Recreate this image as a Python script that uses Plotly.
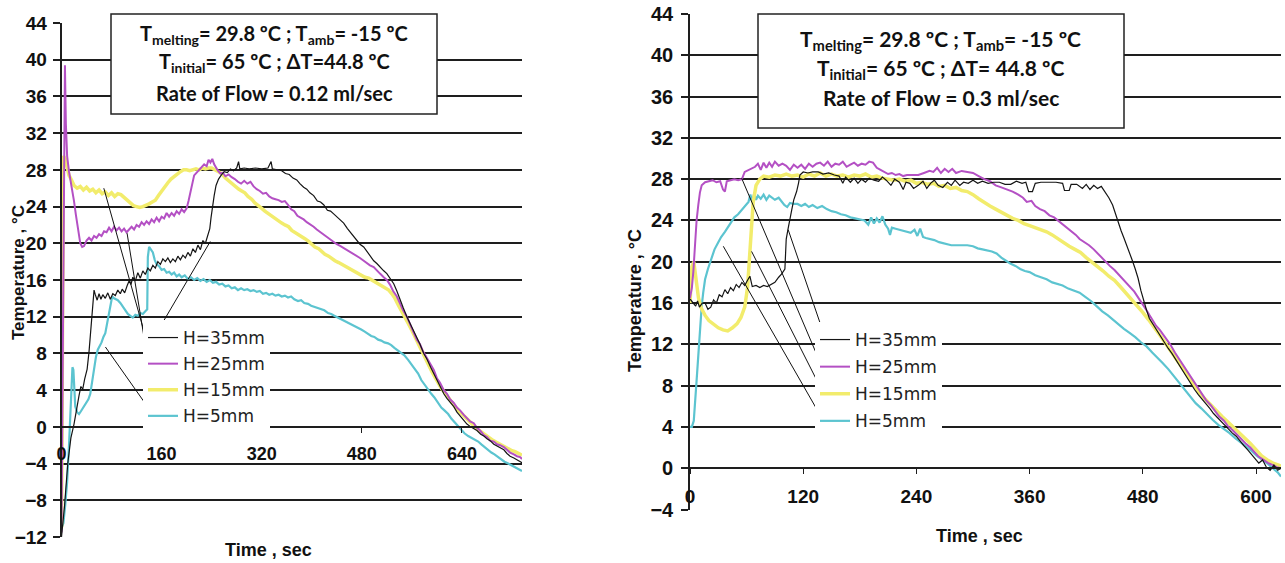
import plotly.graph_objects as go

# ---------------- data: flow rate 0.12 ml/sec ----------------
t_a_35 = [0, 5, 10, 15, 20, 24, 28, 31, 34, 37, 41, 44, 47, 50, 52, 54, 57, 60, 63, 66, 70, 74, 78, 82, 86, 90, 94, 97, 101, 105, 108, 111, 114, 118, 122, 126, 130, 134, 138, 142, 146, 150, 154, 158, 162, 166, 170, 174, 178, 182, 186, 190, 194, 198, 202, 206, 210, 214, 218, 222, 226, 230, 234, 237, 239, 241, 244, 247, 251, 255, 260, 265, 270, 275, 280, 283, 285, 292, 300, 310, 320, 330, 335, 337, 345, 352, 358, 364, 370, 376, 381, 387, 392, 397, 403, 409, 414, 419, 425, 430, 435, 441, 446, 451, 457, 462, 467, 472, 477, 483, 489, 494, 499, 504, 510, 515, 520, 525, 531, 536, 541, 546, 552, 557, 562, 568, 573, 579, 584, 590, 595, 600, 606, 611, 616, 622, 627, 632, 637, 643, 648, 654, 659, 664, 670, 675, 680, 685, 691, 696, 701, 707, 712, 717, 723, 728, 733, 736]
T_a_35 = [-12, -8.5, -4, -1.2, 0.3, 2, 3.4, 4.4, 4.1, 5.2, 6.3, 8.2, 10.5, 13, 14.9, 14.4, 13.8, 14.5, 13.9, 14.4, 14.0, 14.6, 13.9, 14.5, 14.3, 14.9, 14.5, 15.0, 14.6, 15.4, 15.9, 15.5, 16.3, 15.9, 16.8, 16.2, 17.0, 16.6, 17.3, 17.0, 17.6, 17.3, 18.0, 17.7, 18.3, 18.0, 18.4, 17.9, 18.3, 18.0, 18.6, 18.2, 18.7, 18.4, 19.0, 18.6, 19.4, 19.0, 19.8, 19.3, 20.3, 20.0, 21.0, 21.6, 22.8, 24.0, 25.2, 26.3, 27.0, 27.4, 27.8, 27.7, 28.1, 27.9, 28.2, 28.9, 28.1, 28.2, 28.1, 28.2, 28.1, 28.2, 28.9, 28.1, 28.0, 27.9, 27.6, 27.5, 27.1, 26.9, 26.5, 26.1, 25.9, 25.5, 25.2, 24.6, 24.5, 24.2, 23.6, 23.5, 23.2, 22.8, 22.5, 22.2, 21.6, 21.2, 20.8, 20.4, 19.9, 19.6, 19.0, 18.6, 18.1, 17.8, 17.3, 17.0, 16.7, 16.2, 15.6, 14.8, 13.8, 13.0, 12.0, 11.3, 10.6, 9.8, 9.0, 8.0, 7.4, 6.5, 5.8, 5.1, 4.4, 3.6, 3.1, 2.6, 2.2, 1.6, 1.2, 0.7, 0.3, 0.0, -0.2, -0.4, -0.8, -1.0, -1.3, -1.5, -1.9, -2.1, -2.3, -2.5, -2.9, -3.2, -3.4, -3.6, -3.8, -3.9]

t_a_25 = [0, 2, 4, 5.5, 7, 9, 12, 14.5, 17, 20, 23, 25, 28, 30, 33, 36, 40, 44, 48, 52, 56, 60, 64, 68, 72, 76, 80, 84, 88, 92, 96, 100, 104, 108, 112, 116, 120, 124, 128, 132, 136, 140, 144, 148, 152, 156, 160, 164, 168, 172, 176, 180, 184, 188, 192, 196, 200, 203, 206, 209, 212, 216, 220, 224, 228, 232, 235, 238, 241, 244, 247, 250, 254, 258, 262, 267, 272, 277, 282, 287, 292, 297, 302, 307, 312, 317, 322, 327, 332, 337, 342, 347, 352, 357, 362, 367, 372, 377, 382, 387, 392, 397, 403, 408, 414, 419, 424, 430, 435, 440, 446, 451, 456, 462, 467, 472, 477, 483, 488, 493, 499, 504, 509, 515, 520, 525, 530, 536, 541, 546, 552, 557, 562, 568, 573, 578, 584, 589, 595, 600, 605, 611, 616, 621, 627, 632, 637, 643, 648, 653, 659, 664, 669, 675, 680, 685, 691, 696, 701, 707, 712, 717, 723, 728, 733, 736]
T_a_25 = [-11.5, 10, 30, 39.4, 33, 29.5, 27.8, 26.9, 25.6, 24.6, 23.1, 22.2, 20.8, 20.0, 19.6, 19.7, 20.3, 20.6, 20.3, 20.8, 20.6, 21.0, 20.8, 21.3, 21.2, 21.7, 21.3, 21.8, 21.4, 21.7, 21.3, 21.6, 21.2, 21.5, 21.8, 21.5, 22.0, 21.8, 22.3, 22.0, 22.4, 22.1, 22.6, 22.3, 22.8, 22.4, 22.9, 22.7, 23.3, 22.9, 23.3, 23.0, 23.5, 23.2, 23.7, 23.4, 23.8, 24.6, 25.6, 26.6, 27.4, 27.7, 28.0, 28.2, 28.6, 28.4, 29.1, 28.8, 29.2, 28.6, 28.2, 27.9, 27.6, 27.7, 27.3, 27.5, 27.2, 27.0, 26.7, 26.5, 26.8, 26.5, 26.7, 26.2, 25.9, 25.7, 25.4, 25.5, 25.1, 24.9, 24.8, 24.7, 24.5, 24.6, 24.2, 23.7, 23.5, 23.0, 22.8, 22.6, 22.3, 22.1, 21.8, 21.5, 21.2, 20.9, 20.7, 20.4, 20.2, 19.9, 19.7, 19.5, 19.3, 19.0, 18.8, 18.6, 18.4, 18.1, 17.8, 17.6, 17.4, 17.0, 16.7, 16.3, 16.0, 15.5, 14.8, 14.2, 13.4, 12.7, 12.0, 11.1, 10.4, 9.5, 9.0, 8.2, 7.5, 6.8, 6.2, 5.3, 4.8, 4.0, 3.6, 3.0, 2.6, 2.1, 1.8, 1.3, 1.0, 0.6, 0.4, -0.1, -0.4, -0.9, -1.1, -1.5, -1.6, -1.9, -2.0, -2.2, -2.5, -2.8, -3.0, -3.2, -3.3, -3.5]

t_a_15 = [0, 1.5, 3, 6, 9, 12, 16, 20, 25, 30, 35, 40, 45, 50, 55, 60, 65, 70, 75, 80, 85, 90, 95, 100, 105, 110, 115, 120, 125, 130, 135, 140, 145, 150, 155, 160, 165, 170, 175, 180, 185, 190, 195, 200, 205, 210, 215, 220, 225, 230, 235, 240, 245, 250, 256, 262, 267, 272, 278, 283, 288, 293, 298, 304, 309, 315, 320, 325, 331, 336, 341, 347, 352, 357, 363, 368, 373, 379, 384, 389, 395, 400, 405, 411, 416, 421, 427, 432, 437, 443, 448, 453, 459, 464, 469, 475, 480, 485, 491, 496, 501, 507, 512, 517, 523, 528, 533, 538, 544, 549, 554, 560, 565, 570, 576, 581, 586, 592, 597, 602, 608, 613, 618, 624, 629, 634, 640, 645, 650, 656, 661, 666, 672, 677, 682, 688, 693, 698, 704, 709, 714, 720, 725, 730, 736]
T_a_15 = [-11, 10, 29.5, 29.2, 28.2, 27.4, 26.9, 26.3, 26.0, 26.2, 25.8, 26.1, 25.7, 25.9, 25.5, 25.8, 25.4, 25.6, 25.2, 25.5, 25.1, 25.4, 25.3, 25.0, 24.8, 24.4, 24.1, 24.0, 23.9, 24.0, 24.1, 24.3, 24.5, 24.7, 25.2, 25.7, 26.2, 26.6, 27.0, 27.3, 27.6, 27.8, 28.0, 28.0, 27.9, 28.0, 28.1, 28.0, 28.2, 28.1, 28.2, 28.2, 28.0, 27.8, 27.6, 27.1, 26.8, 26.5, 26.2, 25.9, 25.7, 25.5, 25.1, 24.8, 24.4, 24.0, 23.8, 23.5, 23.2, 22.9, 22.7, 22.4, 22.2, 22.0, 21.8, 21.4, 21.2, 20.9, 20.7, 20.5, 20.2, 19.9, 19.6, 19.4, 19.1, 18.8, 18.6, 18.3, 18.1, 17.9, 17.7, 17.5, 17.3, 17.1, 16.9, 16.7, 16.5, 16.3, 16.2, 16.0, 15.8, 15.6, 15.4, 15.2, 14.9, 14.5, 14.0, 13.3, 12.6, 12.0, 11.3, 10.5, 9.8, 9.0, 8.2, 7.4, 6.8, 6.0, 5.4, 4.8, 4.1, 3.7, 3.2, 2.7, 2.2, 1.8, 1.4, 1.0, 0.6, 0.3, 0.0, -0.3, -0.6, -0.9, -1.2, -1.4, -1.6, -1.8, -2.0, -2.2, -2.4, -2.6, -2.7, -2.9, -3.1]

t_a_5 = [0, 3, 6, 9, 12, 14, 16, 17.5, 19, 20.5, 22, 25, 28, 31, 34, 37, 40, 43, 46, 49, 52, 55, 58, 61, 64, 67, 70, 73, 76, 79, 81, 84, 87, 90, 94, 98, 102, 106, 110, 114, 118, 122, 126, 130, 134, 137, 138, 140, 143, 146, 149, 152, 156, 160, 164, 168, 172, 176, 180, 184, 188, 192, 197, 202, 207, 212, 217, 222, 227, 232, 237, 242, 247, 252, 257, 262, 267, 272, 277, 282, 287, 292, 297, 302, 307, 312, 317, 322, 327, 332, 337, 342, 347, 352, 357, 362, 367, 372, 378, 383, 388, 394, 399, 404, 410, 415, 420, 426, 431, 436, 442, 447, 452, 458, 463, 468, 474, 479, 484, 490, 495, 500, 506, 511, 516, 522, 527, 532, 538, 543, 548, 554, 559, 564, 570, 575, 580, 586, 591, 596, 602, 607, 612, 618, 623, 628, 634, 639, 644, 650, 655, 660, 666, 671, 676, 682, 687, 692, 698, 703, 708, 714, 719, 724, 730, 736]
T_a_5 = [-11, -10.5, -8.5, -6, -2, 1.5, 4.5, 6.5, 6.2, 4.5, 2.2, 1.6, 1.4, 1.7, 2.0, 2.3, 2.6, 3.0, 3.6, 5.0, 6.5, 7.6, 8.4, 8.8, 9.2, 9.8, 10.2, 11.3, 12.4, 13.5, 14.2, 14.0, 13.9, 13.8, 13.5, 13.1, 12.7, 12.3, 12.1, 11.9, 12.2, 12.1, 12.4, 12.3, 12.6, 12.8, 18.5, 19.6, 19.3, 19.0, 18.2, 17.7, 17.5, 17.1, 17.2, 16.8, 16.9, 16.6, 16.8, 16.4, 16.6, 16.3, 16.5, 16.1, 16.3, 16.0, 16.2, 15.9, 16.1, 15.8, 16.0, 15.7, 15.8, 15.5, 15.6, 15.3, 15.4, 15.1, 15.2, 14.9, 15.1, 14.9, 15.0, 14.8, 14.9, 14.7, 14.8, 14.5, 14.6, 14.4, 14.5, 14.3, 14.4, 14.2, 14.3, 14.1, 14.2, 13.9, 13.7, 13.8, 13.5, 13.4, 13.2, 13.1, 12.9, 12.8, 12.7, 12.4, 12.3, 12.1, 11.9, 11.7, 11.5, 11.3, 11.2, 11.0, 10.8, 10.6, 10.4, 10.1, 9.9, 9.8, 9.5, 9.4, 9.2, 9.1, 8.9, 8.6, 8.3, 8.1, 7.8, 7.3, 6.8, 6.4, 5.8, 5.1, 4.6, 4.1, 3.6, 3.2, 2.6, 2.1, 1.8, 1.4, 0.9, 0.5, 0.0, -0.4, -0.7, -1.0, -1.2, -1.4, -1.6, -1.9, -2.2, -2.5, -2.8, -3.0, -3.3, -3.6, -3.8, -4.0, -4.2, -4.4, -4.6, -4.8]

# ---------------- data: flow rate 0.3 ml/sec ----------------
t_b_35 = [0, 3, 6, 8, 10, 13, 16, 19, 22, 25, 28, 31, 34, 37, 40, 43, 46, 49, 52, 55, 58, 61, 63.5, 66, 70, 74, 78, 82, 86, 90, 94, 97, 100.6, 102, 104, 106, 108, 110, 113, 115, 116.5, 120, 125, 130, 136, 141, 147, 153, 158, 162, 165, 170, 174, 178, 182, 186, 190, 195, 200, 204, 208, 213, 217, 222, 226, 229, 233, 237, 242, 247, 251, 255, 259, 263, 268, 273, 277, 281, 286, 290, 295, 300, 305, 310, 316, 322, 328, 334, 340, 346, 352, 356, 359, 363, 366, 372, 380, 388, 395, 397, 402, 404, 410, 416, 420, 424, 428, 432, 436, 440, 444, 448, 451, 454, 457, 460, 463, 466, 469, 472, 475, 478, 481, 484, 487, 491, 495, 499, 503, 507, 511, 515, 519, 523, 527, 531, 535, 539, 543, 547, 551, 555, 559, 563, 567, 571, 575, 579, 583, 587, 591, 595, 599, 603, 607, 611, 615, 619, 623, 626.5]
T_b_35 = [16.4, 16.0, 15.7, 16.2, 15.6, 16.0, 16.0, 15.4, 15.6, 16.3, 16.0, 16.8, 16.6, 17.3, 16.9, 17.5, 17.2, 17.8, 17.5, 18.0, 17.7, 18.2, 18.6, 17.6, 17.7, 17.5, 17.7, 17.6, 17.8, 18.0, 18.5, 18.8, 19.3, 22.2, 23.2, 24.3, 25.1, 26.0, 26.8, 27.6, 28.4, 28.7, 28.6, 28.7, 28.7, 28.5, 28.6, 28.4, 28.3, 27.6, 28.2, 27.7, 28.1, 27.6, 28.0, 27.7, 28.1, 27.9, 27.8, 28.2, 27.9, 27.4, 28.0, 27.7, 27.0, 27.7, 27.6, 27.1, 27.4, 27.8, 27.1, 27.6, 27.9, 27.4, 27.2, 27.7, 27.4, 27.9, 27.4, 27.7, 27.6, 27.9, 27.6, 27.8, 27.6, 27.7, 27.7, 27.5, 27.5, 27.8, 27.6, 27.7, 26.8, 26.8, 27.6, 27.7, 27.7, 27.7, 27.6, 26.9, 26.9, 27.5, 27.5, 27.1, 27.5, 27.0, 27.4, 27.1, 27.3, 26.8, 26.2, 25.5, 24.6, 23.8, 23.0, 22.3, 21.6, 20.9, 20.1, 19.3, 18.4, 17.2, 16.2, 15.3, 14.5, 13.9, 13.3, 12.7, 12.2, 11.6, 11.1, 10.5, 9.9, 9.3, 8.7, 8.1, 7.6, 7.1, 6.7, 6.3, 5.8, 5.3, 4.9, 4.5, 4.1, 3.8, 3.4, 3.1, 2.6, 2.2, 1.8, 1.4, 1.0, 0.5, 0.8, 0.1, -0.2, 0.3, -0.2, 0.0]

t_b_25 = [0, 2, 3.5, 5.3, 7, 8.8, 10.5, 12.4, 16, 20, 24, 28, 32, 35, 37, 39, 43, 47, 51, 55, 58, 62, 65, 69, 72, 75, 78, 81, 84, 87, 90, 94, 98, 102, 106, 110, 114, 118, 122, 126, 130, 134, 138, 142, 146, 150, 154, 158, 162, 166, 170, 174, 178, 182, 186, 190, 194, 198, 202, 206, 210, 214, 218, 222, 226, 230, 236, 242, 248, 254, 258, 262, 266, 270, 274, 278, 282, 288, 294, 300, 306, 312, 318, 324, 330, 336, 342, 348, 353, 357, 362, 366, 371, 376, 381, 386, 390, 395, 400, 404, 409, 413, 418, 423, 428, 433, 437, 441, 445, 450, 455, 460, 466, 471, 476, 480, 484, 488, 491, 494, 498, 502, 505, 509, 514, 519, 524, 529, 533, 538, 542, 547, 552, 556, 561, 566, 570, 575, 580, 584, 589, 594, 598, 603, 608, 613, 618, 622, 626.5]
T_b_25 = [16.5, 17.5, 19.0, 22.2, 24.0, 25.5, 26.7, 27.4, 27.7, 27.8, 27.9, 27.7, 27.8, 27.0, 26.8, 27.8, 27.9, 28.0, 27.9, 28.0, 28.7, 28.9, 29.0, 29.2, 29.5, 28.9, 29.6, 29.1, 29.6, 29.2, 29.7, 29.3, 29.5, 29.3, 28.9, 29.4, 29.1, 29.4, 29.0, 29.5, 29.2, 29.5, 29.6, 29.3, 29.7, 29.2, 29.5, 29.4, 29.7, 29.2, 29.4, 29.6, 29.3, 29.5, 29.4, 29.7, 29.6, 29.1, 28.9, 28.7, 28.5, 28.6, 28.4, 28.5, 28.3, 28.4, 28.4, 28.4, 28.6, 28.8, 28.7, 29.1, 28.6, 29.0, 28.7, 29.0, 28.6, 28.8, 28.7, 28.6, 28.3, 28.0, 27.8, 27.4, 27.2, 27.0, 26.8, 26.5, 26.2, 25.8, 25.9, 25.4, 25.1, 24.9, 24.5, 24.3, 24.0, 23.7, 23.3, 23.0, 22.6, 22.2, 21.9, 21.6, 21.2, 20.7, 20.4, 20.0, 19.6, 19.2, 18.7, 18.3, 17.7, 17.1, 16.4, 15.9, 15.3, 14.7, 14.3, 13.8, 13.4, 12.9, 12.5, 12.0, 11.2, 10.5, 9.8, 9.2, 8.6, 7.9, 7.3, 6.6, 6.1, 5.6, 5.0, 4.6, 4.1, 3.7, 3.2, 2.8, 2.4, 2.0, 1.6, 1.1, 0.8, 0.5, 0.3, 0.1, 0.0]

t_b_15 = [0, 2, 4, 6, 9, 12, 16, 20, 25, 30, 35, 40, 45, 50, 54, 58, 61, 63, 65, 67, 70, 74, 78, 84, 90, 96, 102, 108, 114, 120, 126, 132, 138, 144, 150, 156, 162, 168, 174, 180, 186, 192, 198, 204, 210, 216, 222, 228, 234, 240, 246, 252, 258, 264, 270, 276, 282, 288, 294, 300, 306, 312, 318, 324, 330, 336, 342, 348, 354, 360, 366, 372, 378, 384, 390, 396, 402, 408, 414, 420, 426, 432, 438, 444, 450, 456, 462, 468, 474, 480, 486, 492, 498, 504, 510, 516, 522, 528, 534, 540, 546, 552, 558, 564, 570, 576, 582, 588, 594, 600, 606, 612, 618, 624, 626.5]
T_b_15 = [16.0, 19.5, 20.0, 18.5, 16.5, 15.5, 14.8, 14.3, 13.9, 13.6, 13.4, 13.3, 13.6, 14.0, 14.6, 15.6, 17.5, 20.5, 23.5, 25.8, 27.4, 28.0, 28.3, 28.2, 28.4, 28.3, 28.5, 28.3, 28.4, 28.2, 28.5, 28.3, 28.6, 28.3, 28.5, 28.3, 28.4, 28.2, 28.4, 28.3, 28.5, 28.2, 28.3, 28.1, 28.0, 27.9, 28.0, 27.8, 27.9, 27.6, 27.7, 27.5, 27.6, 27.3, 27.4, 27.1, 27.2, 26.9, 26.8, 26.5, 26.1, 25.7, 25.4, 25.1, 24.8, 24.5, 24.2, 24.0, 23.7, 23.5, 23.3, 23.1, 22.9, 22.6, 22.2, 21.9, 21.5, 21.2, 20.9, 20.4, 20.0, 19.6, 19.1, 18.6, 18.2, 17.6, 17.0, 16.4, 15.8, 15.1, 14.4, 13.7, 12.9, 12.1, 11.3, 10.4, 9.6, 8.8, 8.1, 7.3, 6.7, 6.1, 5.5, 5.0, 4.5, 4.0, 3.4, 2.9, 2.4, 1.8, 1.2, 0.8, 0.5, 0.3, 0.2]

t_b_5 = [0, 2, 4, 5.3, 7, 8.8, 10.5, 12.4, 14, 16, 19, 23, 26, 30, 33, 37, 40, 44, 47, 51, 55, 58, 62, 64, 66, 68, 70, 72, 75, 78, 81, 84, 87, 90, 94, 97, 100, 103, 106, 110, 114, 118, 122, 126, 130, 135, 140, 145, 150, 155, 160, 165, 170, 175, 180, 185, 189, 192, 195, 198, 201, 204, 207, 210, 212, 214, 218, 222, 226, 230, 234, 238, 241, 244, 247, 250, 255, 259, 264, 268, 273, 277, 282, 288, 294, 300, 305, 310, 315, 320, 325, 330, 335, 340, 345, 350, 355, 360, 366, 372, 378, 384, 390, 395, 401, 407, 413, 419, 425, 431, 437, 443, 448, 454, 460, 466, 472, 478, 484, 490, 496, 501, 507, 513, 519, 525, 530, 536, 542, 548, 554, 560, 566, 572, 578, 584, 589, 595, 601, 607, 613, 619, 623, 626.5]
T_b_5 = [4.0, 4.0, 4.6, 6.0, 8.5, 10.9, 13.5, 15.7, 17.0, 18.3, 19.3, 20.3, 21.2, 21.9, 22.4, 22.9, 23.3, 23.8, 24.3, 24.6, 25.0, 25.4, 25.8, 26.5, 25.8, 26.6, 26.0, 26.4, 26.1, 26.5, 26.0, 26.4, 26.2, 26.0, 26.2, 25.8, 25.5, 25.3, 25.7, 25.6, 25.6, 25.4, 25.6, 25.3, 25.5, 25.2, 25.4, 25.1, 24.9, 24.8, 24.6, 24.5, 24.3, 24.2, 24.1, 24.0, 23.6, 24.3, 23.7, 24.2, 23.8, 24.4, 23.6, 23.2, 22.6, 23.3, 23.2, 23.1, 23.0, 22.9, 22.8, 23.1, 22.5, 23.2, 22.4, 22.3, 22.2, 22.1, 21.9, 21.8, 21.7, 21.6, 21.6, 21.6, 21.6, 21.5, 21.3, 21.2, 21.1, 21.0, 20.8, 20.4, 20.1, 19.8, 19.6, 19.3, 19.1, 19.0, 18.7, 18.5, 18.3, 18.0, 17.8, 17.7, 17.4, 17.2, 17.0, 16.6, 16.2, 15.7, 15.2, 14.8, 14.4, 14.0, 13.5, 13.1, 12.7, 12.2, 11.8, 11.2, 10.7, 10.2, 9.6, 8.9, 8.3, 7.6, 7.0, 6.3, 5.8, 5.2, 4.7, 4.2, 3.8, 3.4, 2.9, 2.5, 2.1, 1.7, 1.2, 0.8, 0.4, -0.1, -0.4, -0.8]

series_names = ["H=35mm", "H=25mm", "H=15mm", "H=5mm"]
series_colors = ["#151515", "#b450c4", "#f2ec6c", "#5cc4d0"]
series_widths = [1.2, 2.0, 3.5, 2.2]

y_ticks_a = list(range(-12, 45, 4))
y_ticks_b = list(range(-4, 45, 4))
x_ticks_a = [0, 160, 320, 480, 640]
x_ticks_b = [0, 120, 240, 360, 480, 600]

box_a = ["T<sub>melting</sub>= 29.8 ºC ; T<sub>amb</sub>= -15 ºC",
         "T<sub>initial</sub>= 65 ºC ; ΔT=44.8 ºC",
         "Rate of Flow = 0.12 ml/sec"]
box_b = ["T<sub>melting</sub>= 29.8 ºC ; T<sub>amb</sub>= -15 ºC",
         "T<sub>initial</sub>= 65 ºC ; ΔT= 44.8 ºC",
         "Rate of Flow = 0.3 ml/sec"]

# ---------------- figure ----------------
W, H = 1285, 563


def px(x):
    return x / W


def py(y):
    return 1 - y / H


fig = go.Figure()

panels = [
    ("x", "y", "legend", [(t_a_35, T_a_35), (t_a_25, T_a_25), (t_a_15, T_a_15), (t_a_5, T_a_5)]),
    ("x2", "y2", "legend2", [(t_b_35, T_b_35), (t_b_25, T_b_25), (t_b_15, T_b_15), (t_b_5, T_b_5)]),
]
for xa, ya, leg, curves in panels:
    # draw the coloured curves first so the black one ends up on top
    for i in [3, 2, 1, 0]:
        tx, ty = curves[i]
        fig.add_trace(go.Scatter(
            x=tx, y=ty, mode="lines", name=series_names[i],
            line=dict(color=series_colors[i], width=series_widths[i]),
            xaxis=xa, yaxis=ya, legend=leg, legendrank=i + 1,
            legendgroup=leg + str(i)))

ARIAL = "Arial, Liberation Sans"
xtick_font_a = dict(family=ARIAL, size=18, color="#111", weight="bold")
ytick_font_a = dict(family=ARIAL, size=19, color="#111", weight="bold")
xtick_font_b = dict(family=ARIAL, size=19, color="#111", weight="bold")
ytick_font_b = dict(family=ARIAL, size=20, color="#111", weight="bold")

common_y = dict(showgrid=True, gridcolor="#1e1e1e", gridwidth=1.7, zeroline=False,
                showline=True, linecolor="#1e1e1e", linewidth=1.6,
                ticks="outside", ticklen=7, tickcolor="#1e1e1e", tickwidth=1.5,
                automargin=False)
common_x = dict(showgrid=False, zeroline=False, showline=True, linecolor="#1e1e1e",
                linewidth=1.7, ticks="outside", ticklen=5, tickcolor="#1e1e1e",
                tickwidth=1.2, automargin=False)

fig.update_layout(
    width=W, height=H,
    margin=dict(l=0, r=0, t=0, b=0, autoexpand=False),
    paper_bgcolor="white", plot_bgcolor="white",
    xaxis=dict(domain=[px(61.5), px(522)], range=[0, 736], tickvals=x_ticks_a,
               anchor="free", position=py(426.7), tickfont=xtick_font_a,
               ticklabelstandoff=6, **common_x),
    yaxis=dict(domain=[py(537), py(23)], range=[-12, 44], tickvals=y_ticks_a,
               anchor="x", tickfont=ytick_font_a, ticklabelstandoff=2, **common_y),
    xaxis2=dict(domain=[px(690), px(1281)], range=[0, 626.5], tickvals=x_ticks_b,
                anchor="free", position=py(468.3), tickfont=xtick_font_b,
                ticklabelstandoff=6, **common_x),
    yaxis2=dict(domain=[py(509.5), py(14)], range=[-4, 44], tickvals=y_ticks_b,
                anchor="x2", tickfont=ytick_font_b, ticklabelstandoff=4, **common_y),
    legend=dict(x=px(143), y=py(320), xanchor="left", yanchor="top",
                bgcolor="white", borderwidth=0, tracegroupgap=1, itemwidth=30,
                font=dict(family="DejaVu Sans", size=17, color="#222")),
    legend2=dict(x=px(815), y=py(322), xanchor="left", yanchor="top",
                 bgcolor="white", borderwidth=0, tracegroupgap=2, itemwidth=30,
                 font=dict(family="DejaVu Sans", size=17, color="#222")),
    showlegend=True,
)

# leader lines from each legend entry to its curve
leaders_a = [((237.8, 20.2), (150, 10.0)),
             ((67.6, 26.0), (144.7, 7.3)),
             ((104.8, 21.1), (144.7, 4.4)),
             ((70.2, 8.7), (144.7, 1.5))]
leaders_b = [((104.1, 23.1), (143, 12.7)),
             ((54.7, 28.1), (137.7, 10.3)),
             ((65.3, 21.0), (139.5, 7.6)),
             ((35.3, 21.5), (139.5, 4.9))]
for (xa, ya, leaders) in [("x", "y", leaders_a), ("x2", "y2", leaders_b)]:
    for (x0, y0), (x1, y1) in leaders:
        fig.add_shape(type="line", xref=xa, yref=ya, x0=x0, y0=y0, x1=x1, y1=y1,
                      line=dict(color="#111", width=1), layer="above")

# parameter boxes
box_font = "Lato, Open Sans, sans-serif"
for (x0, x1, y0, y1, lines, ys, size) in [
        (111, 437, 14, 114, box_a, [34, 63, 93], 20),
        (758, 1124, 14, 128, box_b, [40, 69, 98], 21)]:
    fig.add_shape(type="rect", xref="paper", yref="paper",
                  x0=px(x0), x1=px(x1), y0=py(y1), y1=py(y0),
                  fillcolor="white", line=dict(color="#222", width=1.5), layer="above")
    for txt, yy in zip(lines, ys):
        fig.add_annotation(text=txt, xref="paper", yref="paper",
                           x=px((x0 + x1) / 2), y=py(yy), xanchor="center",
                           yanchor="middle", showarrow=False,
                           font=dict(family=box_font, size=size, color="#111",
                                     weight="bold"))

# axis titles
title_font = dict(family=ARIAL, color="#111", weight="bold")
for txt, xx, yy, angle, size in [
        ("Temperature , °C", 18, 273, -90, 17),
        ("Temperature , °C", 635, 301, -90, 18),
        ("Time , sec", 268, 550, 0, 18),
        ("Time , sec", 980, 536, 0, 18)]:
    fig.add_annotation(text=txt, xref="paper", yref="paper",
                       x=px(xx), y=py(yy), xanchor="center", yanchor="middle",
                       textangle=angle, showarrow=False,
                       font=dict(size=size, **title_font))

fig.write_html("out.html")
